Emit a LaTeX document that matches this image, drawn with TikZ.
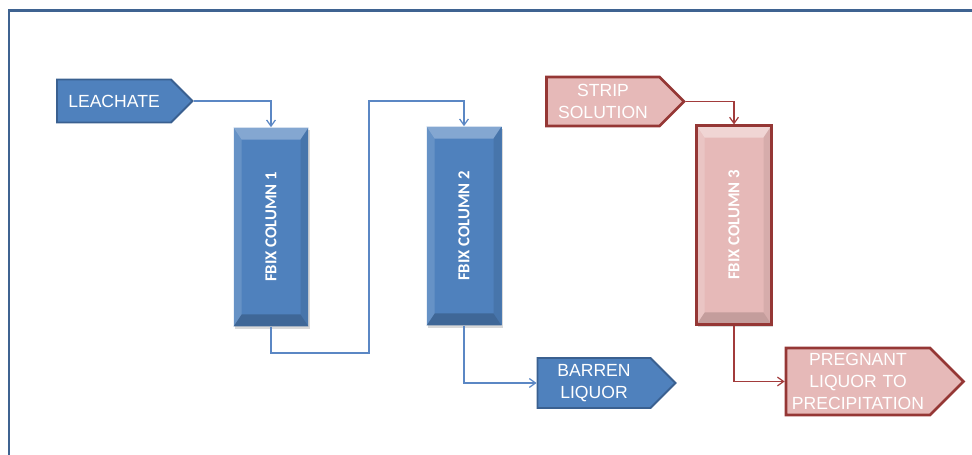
\documentclass[tikz,border=0pt]{standalone}
\usepackage{fontspec}
\setmainfont{Liberation Sans}
\newfontfamily\colfont{Carlito}
\usetikzlibrary{arrows.meta,shapes.symbols,shadows}
\definecolor{frameblue}{HTML}{3F6391}
\definecolor{boxblue}{HTML}{4F81BD}
\definecolor{edgeblue}{HTML}{3A6090}
\definecolor{lineblue}{HTML}{5B87C4}
\definecolor{boxpink}{HTML}{E6B9B8}
\definecolor{edgered}{HTML}{953735}
\definecolor{linered}{HTML}{A23B3B}
\tikzset{
  feed/.style={signal, signal to=east, signal pointer angle=90, inner sep=0pt,
    align=center, text=white, font=\fontsize{10}{12.5}\selectfont},
  bluefeed/.style={feed, fill=boxblue, draw=edgeblue, line width=1.1pt},
  pinkfeed/.style={feed, fill=boxpink, draw=edgered, line width=1.6pt},
  bevel/.style 2 args={path picture={
    \fill[#1] (path picture bounding box.north west) -- (path picture bounding box.north east)
      -- ([xshift=-0.16cm, yshift=-0.24cm]path picture bounding box.north east)
      -- ([xshift=0.16cm, yshift=-0.24cm]path picture bounding box.north west) -- cycle;
    \fill[#2] (path picture bounding box.south west) -- (path picture bounding box.south east)
      -- ([xshift=-0.16cm, yshift=0.24cm]path picture bounding box.south east)
      -- ([xshift=0.16cm, yshift=0.24cm]path picture bounding box.south west) -- cycle;
    \fill[#1, opacity=0.45] (path picture bounding box.north west)
      -- ([xshift=0.16cm, yshift=-0.24cm]path picture bounding box.north west)
      -- ([xshift=0.16cm, yshift=0.24cm]path picture bounding box.south west)
      -- (path picture bounding box.south west) -- cycle;
    \fill[#2, opacity=0.45] (path picture bounding box.north east)
      -- ([xshift=-0.16cm, yshift=-0.24cm]path picture bounding box.north east)
      -- ([xshift=-0.16cm, yshift=0.24cm]path picture bounding box.south east)
      -- (path picture bounding box.south east) -- cycle;
  }},
  column/.style={rectangle, minimum width=1.5cm, minimum height=3.98cm, inner sep=0pt,
    text=white, font=\colfont\bfseries\fontsize{9.5}{11}\selectfont,
    drop shadow={shadow xshift=0.6pt, shadow yshift=-1.4pt, opacity=0.3}},
  bluecolumn/.style={column, fill=boxblue, bevel={boxblue!70!white}{boxblue!80!black}},
  pinkcolumn/.style={column, fill=boxpink, draw=edgered, line width=1.2pt,
    bevel={boxpink!60!white}{boxpink!85!black}},
  flow/.style={line width=0.7pt, -{Straight Barb[length=3.5pt, width=5pt]}}
}
\begin{document}
\begin{tikzpicture}[x=0.02cm, y=-0.02cm]
  \useasboundingbox (0,0) rectangle (972,455);
  % frame
  \draw[frameblue, line width=1.7pt] (9,460) |- (980,11);
  % feeds and products
  \node[bluefeed, text width=2.28cm, minimum height=0.86cm] (leachate) at (114,101) {LEACHATE};
  \node[pinkfeed, text width=2.26cm, minimum height=0.98cm] (strip) at (603,101.5) {STRIP\\SOLUTION};
  \node[bluefeed, text width=2.26cm, minimum height=1.0cm] (barren) at (594,383) {BARREN\\LIQUOR};
  \node[pinkfeed, text width=2.88cm, minimum height=1.34cm] (pregnant) at (858,381.5)
    {PREGNANT\\LIQUOR TO\\PRECIPITATION};
  % columns
  \node[bluecolumn] (col1) at (271,227) {\rotatebox{90}{FBIX COLUMN 1}};
  \node[bluecolumn] (col2) at (464,226) {\rotatebox{90}{FBIX COLUMN 2}};
  \node[pinkcolumn] (col3) at (734,225) {\rotatebox{90}{FBIX COLUMN 3}};
  \coordinate (bendlow) at (369,353);
  \coordinate (bendhigh) at (369,101);
  % connectors
  \draw[flow, lineblue] (leachate.east) -| (col1.north);
  \draw[flow, lineblue] (col1.south) |- (bendlow) -- (bendhigh) -| (col2.north);
  \draw[flow, lineblue] (col2.south) |- (barren.west);
  \draw[flow, linered] (strip.east) -| (col3.north);
  \draw[flow, linered] (col3.south) |- (pregnant.west);
\end{tikzpicture}
\end{document}
